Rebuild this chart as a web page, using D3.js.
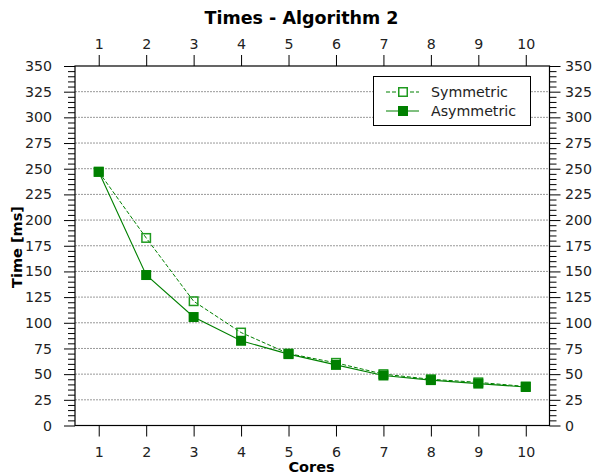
<!DOCTYPE html>
<html><head><meta charset="utf-8">
<script src="https://cdn.jsdelivr.net/npm/d3@7"></script>
<style>body{margin:0;background:#fff}svg, svg text{font-family:"DejaVu Sans",sans-serif}</style>
</head><body><svg id="c" width="592" height="475"></svg>
<script>
const cores = [1,2,3,4,5,6,7,8,9,10];
const symmetric = [247, 182.6, 121, 90.5, 70, 61, 50, 45, 42, 38];
const asymmetric = [247, 146.5, 105.6, 82.5, 69.5, 59, 48.7, 44.2, 40.8, 37.5];
const yTicks = [0,25,50,75,100,125,150,175,200,225,250,275,300,325,350];
const seriesNames = ["Symmetric","Asymmetric"];

const svg = d3.select("#c");
const L=75, R=549.5, T=66, B=425.5;
const x = d3.scaleLinear().domain([0.5,10.5]).range([L,R]);
const y = d3.scaleLinear().domain([0,350]).range([B,T]);
const green = "#008000";
const FF = "DejaVu Sans";

// grid
svg.append("g").selectAll("line").data(yTicks.filter(v=>v>0&&v<350)).join("line")
  .attr("x1",L).attr("x2",R).attr("y1",d=>y(d)).attr("y2",d=>y(d))
  .attr("stroke","#999").attr("stroke-width",1).attr("stroke-dasharray","2,1");

const minor = d3.range(0,351,5).filter(v=>v%25!==0);
function styleAxis(g){g.attr("font-family",FF);g.selectAll("path,line").attr("stroke","#000");g.selectAll("text").attr("font-family",FF).attr("font-size","14.2px").attr("fill","#222");g.select(".domain").remove();}

svg.append("g").attr("transform",`translate(0,${B})`).call(d3.axisBottom(x).tickValues(cores).tickSize(11).tickPadding(10).tickFormat(d3.format("d"))).call(styleAxis);
svg.append("g").attr("transform",`translate(0,${T})`).call(d3.axisTop(x).tickValues(cores).tickSize(11).tickPadding(6).tickFormat(d3.format("d"))).call(styleAxis);
svg.append("g").attr("transform",`translate(${L},0)`).call(d3.axisLeft(y).tickValues(yTicks).tickSize(11).tickPadding(12)).call(styleAxis);
svg.append("g").attr("transform",`translate(${R},0)`).call(d3.axisRight(y).tickValues(yTicks).tickSize(11).tickPadding(4.5)).call(styleAxis);
svg.append("g").attr("transform",`translate(${L},0)`).call(d3.axisLeft(y).tickValues(minor).tickSize(7).tickFormat("")).call(styleAxis);
svg.append("g").attr("transform",`translate(${R},0)`).call(d3.axisRight(y).tickValues(minor).tickSize(7).tickFormat("")).call(styleAxis);

svg.append("rect").attr("x",L).attr("y",T).attr("width",R-L).attr("height",B-T)
  .attr("fill","none").attr("stroke","#000").attr("stroke-width",1.2);

const line = d3.line().x((d,i)=>x(cores[i])).y(d=>y(d));
svg.append("path").datum(symmetric).attr("d",line).attr("fill","none").attr("stroke",green).attr("stroke-width",1).attr("stroke-dasharray","4,2");
svg.append("path").datum(asymmetric).attr("d",line).attr("fill","none").attr("stroke",green).attr("stroke-width",1.1);
const s=10;
svg.append("g").selectAll("rect").data(symmetric).join("rect")
  .attr("x",(d,i)=>x(cores[i])-s/2+0.75).attr("y",d=>y(d)-s/2+0.75).attr("width",s-1.5).attr("height",s-1.5)
  .attr("fill","none").attr("stroke","#1f9a1f").attr("stroke-width",1.5);
svg.append("g").selectAll("rect").data(asymmetric).join("rect")
  .attr("x",(d,i)=>x(cores[i])-s/2).attr("y",d=>y(d)-s/2).attr("width",s).attr("height",s)
  .attr("fill",green);

// legend
const lg = svg.append("g");
lg.append("rect").attr("x",373.5).attr("y",76.5).attr("width",157).attr("height",49).attr("fill","#fff").attr("stroke","#000").attr("stroke-width",1);
seriesNames.forEach((n,i)=>{
  const yy = 92 + i*19;
  lg.append("line").attr("x1",386).attr("x2",419).attr("y1",yy).attr("y2",yy).attr("stroke",green).attr("stroke-width",1.1).attr("stroke-dasharray",i===0?"4,2":null);
  if(i===0) lg.append("rect").attr("x",403-s/2+0.75).attr("y",yy-s/2+0.75).attr("width",s-1.5).attr("height",s-1.5).attr("fill","#fff").attr("stroke","#1f9a1f").attr("stroke-width",1.5);
  else lg.append("rect").attr("x",403-s/2).attr("y",yy-s/2).attr("width",s).attr("height",s).attr("fill",green);
  lg.append("text").attr("x",431).attr("y",yy+5).attr("font-size","14.2px").attr("fill","#222").text(n);
});

svg.append("text").attr("x",301.5).attr("y",24).attr("text-anchor","middle").attr("font-size","17.5px").attr("font-weight","bold").text("Times - Algorithm 2");
svg.append("text").attr("x",311.5).attr("y",472).attr("text-anchor","middle").attr("font-size","14.5px").attr("font-weight","bold").text("Cores");
svg.append("text").attr("transform","translate(22,247) rotate(-90)").attr("text-anchor","middle").attr("font-size","14.5px").attr("font-weight","bold").text("Time [ms]");
</script></body></html>
